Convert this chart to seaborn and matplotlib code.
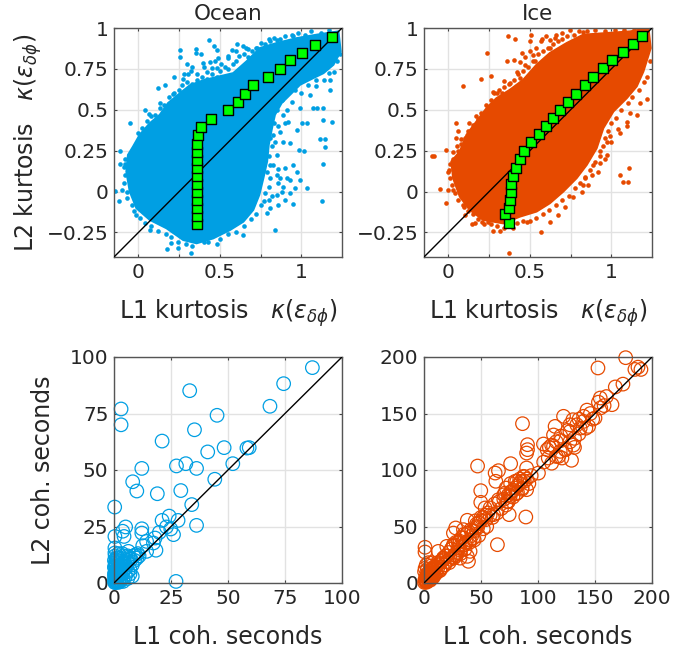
import matplotlib
matplotlib.use('Agg')
import matplotlib.pyplot as plt
import seaborn as sns

sns.set_style('white')
plt.rcParams['font.family'] = ['DejaVu Sans']
plt.rcParams['mathtext.fontset'] = 'dejavusans'

BLUE = '#009fe3'
ORANGE = '#e64a00'
GREEN = '#00ff00'
TXT = '#262626'

# kurtosis axes
kurt_xlim = [-0.15, 1.25]
kurt_ylim = [-0.4, 1.0]
kurt_xticks = [0, 0.25, 0.5, 0.75, 1]
kurt_xlabels = ['0', '', '0.5', '', '1']
kurt_yticks = [-0.25, 0, 0.25, 0.5, 0.75, 1]
kurt_ylabels = ['\u22120.25', '0', '0.25', '0.5', '0.75', '1']

# outline of the solid cloud, ocean
ocean_edge_x = [-.064, -.033, .008, .07, .131, .182, .254, .316, .398, .48, .582, .664, .746, .849, .972, 1.095, 1.228,
                1.242, 1.197, 1.136, 1.074, .992, .931, .879, .838, .82, .80, .79, .767, .742, .705, .644, .562,
                .459, .357, .275, .172, .07, -.012, -.053, -.074]
ocean_edge_y = [.224, .275, .347, .418, .469, .541, .60, .65, .68, .70, .724, .796, .877, .908, .938, .959, .979,
                .857, .775, .724, .694, .653, .592, .541, .469, .388, .286, .184, .082, -.02, -.112, -.184, -.235,
                -.286, -.316, -.296, -.224, -.173, -.102, 0, .122]
# scattered dots outside the cloud, ocean
ocean_x = [-.146, -.10, -.119, -.115, -.115, -.084, -.053, .039, .066, .121, .162, .131, .217, .213, .258, .254, .275,
           .305, .326, .351, .351, .387, .398, .435, .467, .484, .49, .48, .418, .449, .551, .603, .644, .67, .572,
           .726, .808, .849, .951, 1.033, 1.173, 1.177, 1.091, 1.177, 1.095, 1.136, 1.187, 1.132, 1.115, 1.146, 1.146,
           1.136, 1.125, 1.033, .951, .992, .988, 1.017, .951, .90, .972, .91, .859, .879, .931, .838, .644, .48, .32,
           .244, .176, .197, .07, -.012, 1.037, 1.002, .972, .931, .89, .92, .869, .828, .992, 1.054, 1.074, .849,
           .828, .808, .808, .849, .787, .89,
           0, .02, .05, .08, .1, .13, .16, .19, .22, .25, .27, .3, .33, .36, .39, .42, .45, .48, .5, .53, .55, .58, .6,
           .62, .65, .67, .7, .72, .75, .78, .8, .83, .87, .9, .94, .98, 1.02, 1.06, 1.12, 1.17,
           .28, .32, .36, .3, .4, .44, .47, .51, .55, .6, .66,
           -.08, -.09, -.08, -.09, -.07, -.07, -.04, -.03, .01, .04, .08, .12, .17, .2, .24, .29, .33, .4, .43, .5, .55,
           .6, .65, .69, .72, .75, .77, .78, .8, .79, .81, .8, .82, .81, .83, .85, .88, .91, .94, .96, 1.0, 1.04, 1.09,
           1.14, 1.2, 1.22, 1.24, .86, .9, .84, .86, .87, .85, .82, .8, .89, .93, .96, .9, .86]
ocean_y = [.006, .01, -.057, .245, .167, .169, .422, .50, .473, .632, .653, .541, .70, .598, .863, .822, .687,
           .718, .761, .873, .847, .843, .785, .928, .891, .867, .816, .755, .734, .755, .816, .902, .887, .871, .867,
           .877, .918, .928, .949, .938, .724, .683, .643, .622, .51, .51, .428, .439, .322, .322, .271,
           .169, -.057, .02, -.075, .071, .255, .251, .163, .143, .122, .082, .051, 0, -.01, -.235, -.265, -.322, -.373,
           -.347, -.351, -.316, -.235, -.143, .418, .418, .377, .296, .306, .428, .367, .347, .51, .592, .51, .224,
           .163, .082, -.102, -.02, -.133, .469,
           .36, .39, .43, .46, .47, .51, .53, .58, .6, .62, .65, .67, .66, .68, .7, .69, .72, .7, .74, .76, .75, .78, .8,
           .83, .84, .82, .86, .88, .91, .9, .93, .94, .93, .95, .96, .97, .96, .98, .97, .99,
           .72, .74, .72, .78, .76, .79, .8, .78, .83, .86, .88,
           .2, .15, .1, .05, 0, -.04, -.08, -.12, -.16, -.19, -.21, -.24, -.26, -.28, -.31, -.32, -.33, -.31, -.31, -.29, -.26,
           -.25, -.21, -.17, -.14, -.08, -.06, -.01, .03, .12, .16, .22, .28, .33, .42, .5, .56, .5, .55, .62, .6, .65, .68,
           .68, .73, .8, .84, .4, .42, .3, .14, .08, .1, -.03, -.05, .03, .07, .02, -.05, -.08]
# binned means, ocean
ocean_bin_x = [.359, .359, .359, .359, .359, .359, .359, .359, .359, .359, .359, .367, .387, .447, .551, .613, .656,
               .705, .795, .871, .931, 1.002, 1.086, 1.189]
ocean_bin_y = [-.20, -.151, -.102, -.053, -.004, .045, .094, .143, .192, .241, .29, .343, .394, .445, .498, .549, .598,
               .651, .702, .751, .806, .849, .898, .945]

# outline of the solid cloud, ice
ice_edge_x = [.018, .07, .111, .172, .234, .295, .377, .459, .541, .623, .726, .828, .972, 1.115, 1.228, 1.242, 1.197,
              1.156, 1.095, 1.013, .951, .91, .849, .787, .705, .623, .541, .439, .336, .213, .131, .07, .029]
ice_edge_y = [.184, .245, .347, .428, .51, .571, .622, .683, .775, .847, .908, .959, .969, .979, 1.0, .877, .734,
              .643, .571, .49, .388, .265, .163, .082, 0, -.071, -.122, -.153, -.194, -.173, -.112, -.031, .082]
# scattered dots outside the cloud, ice
ice_x = [-.098, -.09, -.016, .09, .234, .199, .363, .408, .373, -.053, -.016, -.002, .029, .096, .146, .045, .059,
         .049, .08, .127, .182, .264, .271, .299, .332, .342, .377, .449, .402, .357, .51, .50, .572, .623, .623,
         .654, .746, .824, .521, .531, .469, .418, .439, 1.109, 1.054, 1.074, 1.105, 1.218, 1.177, 1.156, 1.115,
         1.095, 1.095, 1.054, .992, .972, .931, .972, .931, .89, .838, .828, .767, .715, .674, .623, .568, .48, .398,
         .316, .275, .244, .209, .162, .10, .004,
         .03, .06, .08, .1, .12, .15, .17, .2, .23, .26, .28, .31, .34, .37, .4, .43, .46, .49, .52, .55, .58, .61, .64,
         .67, .7, .73, .77, .8, .85, .9, .96, 1.02, 1.08, 1.14, .44, .47, .5, .54, .57, .6, .66, .7,
         1.24, 1.22, 1.2, 1.17, 1.13, 1.1, 1.06, 1.03, 1.0, .98, .96, .95, .93, .9, .87, .84, .81, .78, .74, .7, .66,
         .62, .58, .54, .5, .46, .42, .38, .34, .3, .26, .22, .18, .15, .12, .09, .06, .04, .02, .01, 0, .01, .03, .05,
         .88, .92, .96, 1.0, 1.04, .86, .82]
ice_y = [.22, .22, .255, .643, .847, .687, .949, .934, -.373, .014, -.067, .01, .01, -.092, -.198, .418, .371,
         .326, .322, .422, .445, .704, .608, .602, .602, .677, .663, .847, .802, .796, .959, .918, .934, .928, .877,
         .938, .989, .975, .836, .796, .775, .734, .694, .143, .102, .061, .061, .565, .541, .469, .479,
         .428, .398, .357, .337, .306, .245, .224, .173, .163, .082, .041, -.031, -.092, -.143, -.188, -.245, -.184,
         -.224, -.241, -.239, -.188, -.188, -.194, -.143, .133,
         .2, .25, .29, .33, .37, .41, .46, .48, .53, .56, .6, .62, .64, .66, .68, .72, .74, .76, .8, .84, .86, .88, .9,
         .92, .93, .95, .96, .98, .98, .99, .98, .99, .99, .99, .79, .82, .86, .88, .92, .95, .96, .97,
         .8, .7, .67, .62, .58, .54, .5, .45, .42, .37, .33, .28, .22, .18, .13, .09, .05, .02, -.03, -.05, -.08,
         -.11, -.14, -.16, -.18, -.18, -.19, -.21, -.22, -.21, -.2, -.2, -.17, -.14, -.12, -.08, -.05, -.01, .04, .08, .12,
         .17, .24, .28, .1, .12, .2, .3, .38, .04, 0]
# binned means, ice
ice_bin_x = [.373, .349, .373, .377, .383, .387, .394, .416, .441, .467, .508, .558, .601, .644, .685, .736, .783,
             .836, .888, .951, 1.007, 1.072, 1.132, 1.191]
ice_bin_y = [-.192, -.139, -.098, -.051, -.002, .047, .098, .147, .198, .247, .302, .349, .4, .447, .498, .547, .598,
             .651, .702, .753, .804, .853, .902, .949]

# coherence seconds, ocean
coh_ocean_x = [87, 74.4, 68.4, 33.2, 3.1, 3.1, 45.2, 35.3, 21.1, 48.3, 41.1, 58.3, 59.3, 52.1, 27.4, 31.5, 36.2, 12.2,
               8.2, 10, 19, 29.3, 44.2, 34.1, .3, 36.2, 28.1, 24.2, 21.1, 23, 24.9, 26.1, 19.9, 12.2, 12.2, 5.1, 3.8,
               4.4, .4, 18, 17.3, 14.3, 12.6, 18.4, 14.3, .4, .4, 6.3, 27.2,
               1, 1, .5, 2, 1, 3, .5, 2, 4, 5, 6, 7, 8, 9, 10, 11, 6, 5, 7, .3, 2, 3, 4, 1, .5, 1, 2, .3, 1, 3, 4, 3, .5,
               8, 6, 2, 4, .2, .2, 3, 6, 7, 2, 4,
               .3, .6, 1.2, 1.6, .2, .8, 1.5, 2.2, .4, 1, 1.8, 2.6, .3, .9, 1.4, 2.4, 3.3, 3.8, 4.6, 5.4, .5, 1.3, 2.1, 2.9,
               .6, 1.1, 1.7, 3.6, 5.8, 6.6, 7.5, 8.6, 9.5, 10.4]
coh_ocean_y = [95.3, 88.2, 78.2, 85.1, 77, 70, 74.2, 67.8, 62.8, 59.9, 58, 59.7, 59.9, 52.8, 51.8, 52.8, 50.7, 50.7,
               44.8, 40.7, 39.5, 40.9, 45.9, 34.7, 33.6, 25.5, 27.7, 29.6, 27.7, 24.8, 23.9, 21.4, 22.4, 24, 22.1, 24.8, 22.9,
               20.6, 20.6, 19.9, 17.7, 18.4, 16.5, 14.5, 14, 15.5, 13.3, 14, .7,
               11, 9, 8, 7, 6, 6, 5, 5, 5, 7, 9, 6, 8, 10, 11, 12, 5, 3, 4, 3, 3, 2, 2, 2, 1, .5, 1, .3, 1, 4, 9, 11, 12,
               3, 2, .3, .7, 7, 10, 8, 12, 11, 13, 12,
               1, 1.5, 2.5, 3.5, 4, 4.5, 5.5, 6.5, 6.8, 7.5, 8.5, 9.5, 2.2, 3.2, 4.2, 5.2, 6.2, 7.2, 6, 7, .2, .4, .6, .8,
               9.2, 10.2, 11.2, 13, 10, 11.5, 10.5, 12, 12.5, 13]

# coherence seconds, ice
coh_ice_x = [176.9, 152.6, 185, 187.7, 190.3, 167.8, 174.5, 164.9, 154.6, 153, 155, 143, 150, 140, 122.4, 86.4, 130.6,
             115, 144.4, 137, 128, 113.6, 104.8, 131, 90.8, 90.8, 90, 119.5, 113.6, 109, 121, 129.4, 76, 47, 65.3, 62.4,
             63, 90, 100.4, 87.3, 81.4, 90, 49.8, 49.8, 71, 75.5, 65.3, 89.3, 74.7, 58, 53.6, 61, 38, 27.8, 25.8, 34.6,
             46.3, 55, 64.4, 39, 38, 40.4, 20, 25.8, 31.6, 43.3, .9, .9, 12.6, 17, 31.6,
             1, 1.5, 2, 2.5, 3, 3.5, 4, 5, 6, 7, 8, 9, 10, 11, 12, 13, 14, 15, 16, 17, 18, 19, 20, 22, 23, 24, 25, 26,
             27, 28, 29, 30, 32, 33, 34, 35, 36, 37, 38, 40, 41, 42, 44, 45, 47, 48, 50, 52, 54, 56, 58, 60, 62, 64,
             66, 68, 70, 72, 74, 76, 78, 80, 82, 84, 86, 88, 90, 92, 94,
             105, 110, 112, 116, 118, 120, 124, 126, 128, 132, 134, 136, 140, 142, 146, 148, 158, 160,
             .5, 1, 1.5, 2, 2.5, 3, 3.5, 4, 4.5, 5, 5.5, 6, 6.5, 7, 7.5, 8, 8.5, 9, 9.5, 10, .5, 1, 2, 3, 4, 5, 6, 7, 8,
             12, 14, 16, 18, 20, 22, 24, 26, 28, 30, 32, 34, 36, 38, 40, 42, 44, 46, 48, 50, 52, 54,
             72, 74, 76, 78, 80, 82, 84, 86, 88, 70, 73, 77, 81, 85, 108, 112, 116, 120, 124, 128, 132, 136]
coh_ice_y = [199.4, 190.3, 189, 191, 189, 173.5, 176, 157.8, 163.7, 160, 155, 153, 146, 147.5, 147.5, 141, 144.5,
             138.6, 138.6, 137, 134, 131, 123, 122, 122.4, 118, 115, 116.5, 121, 110.6, 110.6, 108.6, 105.6, 103.5, 99.4, 97.3,
             90, 101.8, 97.3, 94.4, 90, 82.6, 81.7, 71.4, 79.6, 76.7, 73.7, 58.4, 60.5, 66.4, 66.4, 60.5, 55.5, 48.7, 44.2, 47.2,
             50, 50, 33.9, 19.2, 23.6, 28, 32.4, 33.9, 36.9, 39.8, 31.6, 27.4, 28, 22, 22,
             3, 2, 6, 1.5, 8, 4, 2.5, 10, 4, 9, 12, 7, 14, 9, 13, 17, 11, 19, 14, 22, 16, 24, 19, 27, 21, 30, 23, 33,
             25, 36, 27, 31, 29, 40, 33, 43, 34, 36, 44, 38, 47, 42, 46, 55, 49, 53, 55, 58, 56, 62, 60, 58, 70, 62,
             72, 66, 74, 69, 72, 80, 76, 84, 80, 88, 83, 90, 92, 88, 95,
             107, 120, 106, 125, 112, 130, 118, 135, 125, 128, 140, 132, 143, 137, 150, 145, 157, 165,
             .5, 3, 1, 5, .8, 7, 2, 9, 3, 11, 2.5, 12, 5, 8, 11, 5, 14, 7, 13, 9, 10, 13, 16, 12, 18, 10, 15, 18, 12,
             18, 12, 20, 16, 24, 18, 30, 22, 24, 36, 26, 40, 30, 44, 36, 46, 38, 52, 42, 58, 48, 60,
             84, 78, 88, 82, 90, 86, 92, 84, 94, 78, 72, 81, 79, 90, 118, 122, 112, 126, 118, 140, 120, 145]

coh_ocean_ticks = [0, 25, 50, 75, 100]
coh_ice_ticks = [0, 50, 100, 150, 200]


def style_ax(ax, xlim, ylim, xticks, yticks, xlabels, ylabels, xlabel, ylabel, title=None):
    ax.set_xlim(xlim)
    ax.set_ylim(ylim)
    ax.set_xticks(xticks)
    ax.set_yticks(yticks)
    ax.set_xticklabels(xlabels)
    ax.set_yticklabels(ylabels)
    ax.grid(True, color='#e2e2e2', lw=1)
    ax.set_axisbelow(True)
    ax.tick_params(direction='in', length=2.5, width=0.8, color='#444444', top=True, right=True,
                   bottom=True, left=True, labelsize=14.5, labelcolor=TXT, pad=4)
    for s in ax.spines.values():
        s.set_visible(True)
        s.set_color('#555555')
        s.set_linewidth(1)
    ax.set_xlabel(xlabel, fontsize=17, color=TXT)
    ax.set_ylabel(ylabel, fontsize=17, color=TXT)
    if title:
        ax.set_title(title, fontsize=15.5, color=TXT, pad=6)


def kurt_panel(ax, edge_x, edge_y, x, y, bin_x, bin_y, color, title, ylabels):
    ax.fill(edge_x, edge_y, color=color, lw=1.5, zorder=2)
    sns.scatterplot(x=x, y=y, ax=ax, color=color, s=11, linewidth=0, zorder=2)
    sns.lineplot(x=kurt_xlim, y=kurt_ylim, ax=ax, color='black', lw=1, zorder=3)
    sns.scatterplot(x=bin_x, y=bin_y, ax=ax, color=GREEN, marker='s', s=60, edgecolor='black', linewidth=1, zorder=4)
    style_ax(ax, kurt_xlim, kurt_ylim, kurt_xticks, kurt_yticks, kurt_xlabels, ylabels,
             r'L1 kurtosis   $\kappa(\epsilon_{\delta\phi})$', r'L2 kurtosis   $\kappa(\epsilon_{\delta\phi})$', title)
    ax.xaxis.set_label_coords(0.5, -0.175)
    ax.yaxis.set_label_coords(-0.305, 0.5)


def coh_panel(ax, x, y, ticks, color):
    sns.scatterplot(x=x, y=y, ax=ax, marker='o', s=95, facecolor='none', edgecolor=color, linewidth=0.9,
                    clip_on=False, zorder=2)
    sns.lineplot(x=[ticks[0], ticks[-1]], y=[ticks[0], ticks[-1]], ax=ax, color='black', lw=1, zorder=3)
    style_ax(ax, [ticks[0], ticks[-1]], [ticks[0], ticks[-1]], ticks, ticks, ticks, ticks,
             'L1 coh. seconds', 'L2 coh. seconds')
    ax.xaxis.set_label_coords(0.5, -0.185)
    ax.yaxis.set_label_coords(-0.26, 0.5)


W, H = 697, 654
fig = plt.figure(figsize=(W / 100, H / 100), dpi=100)
ax1 = fig.add_axes([114 / W, 1 - 257 / H, 228 / W, 229 / H])
ax2 = fig.add_axes([424 / W, 1 - 257 / H, 228 / W, 229 / H])
ax3 = fig.add_axes([114 / W, 1 - 583 / H, 228 / W, 226 / H])
ax4 = fig.add_axes([424 / W, 1 - 583 / H, 228 / W, 226 / H])

kurt_panel(ax1, ocean_edge_x, ocean_edge_y, ocean_x, ocean_y, ocean_bin_x, ocean_bin_y, BLUE, 'Ocean', kurt_ylabels)
kurt_panel(ax2, ice_edge_x, ice_edge_y, ice_x, ice_y, ice_bin_x, ice_bin_y, ORANGE, 'Ice', kurt_ylabels)
ax2.set_ylabel('')
coh_panel(ax3, coh_ocean_x, coh_ocean_y, coh_ocean_ticks, BLUE)
coh_panel(ax4, coh_ice_x, coh_ice_y, coh_ice_ticks, ORANGE)
ax4.set_ylabel('')

fig.savefig('out.png', dpi=100)
